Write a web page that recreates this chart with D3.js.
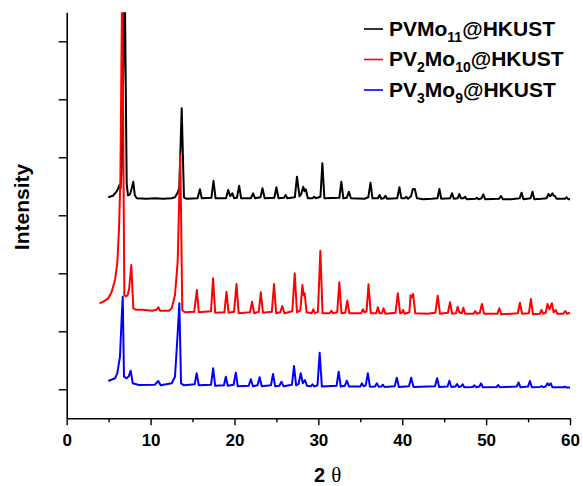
<!DOCTYPE html>
<html><head><meta charset="utf-8">
<script src="https://cdnjs.cloudflare.com/ajax/libs/d3/7.8.5/d3.min.js"></script>
<style>body{margin:0;background:#fff}svg{display:block}</style>
</head><body><div id="chart"></div>
<script>
// ---- data (2θ in degrees, intensity in arbitrary units, stacked offsets included) ----
const xTicks = [0, 10, 20, 30, 40, 50, 60];
const xMinorTicks = [5, 15, 25, 35, 45, 55];
const yTicks = [290, 870, 1450, 2030, 2610, 3190, 3770];
const xLabel = "2 θ";
const yLabel = "Intensity";

const seriesNames = [
  [["PVMo", ""], ["11", "sub"], ["@HKUST", ""]],
  [["PV", ""], ["2", "sub"], ["Mo", ""], ["10", "sub"], ["@HKUST", ""]],
  [["PV", ""], ["3", "sub"], ["Mo", ""], ["9", "sub"], ["@HKUST", ""]]
];
const seriesColors = ["#000000", "#ff0000", "#0000ff"];

const pvmo11 = [[4.96,2210],[5.5,2225],[5.96,2270],[6.15,2300],[6.27,2330],[6.42,2300],[6.56,2500],[6.92,4400],[7.15,2350],[7.3,2230],[7.55,2240],[7.72,2290],[7.94,2365],[8.12,2230],[8.35,2200],[9.5,2195],[10.5,2200],[11.5,2195],[12.5,2200],[12.9,2210],[13.19,2250],[13.42,2300],[13.71,3100],[13.98,2210],[14.3,2195],[15.6,2200],[15.88,2290],[16.1,2200],[17.25,2205],[17.5,2375],[17.75,2200],[19.0,2200],[19.25,2283],[19.5,2220],[19.75,2250],[19.95,2200],[20.3,2205],[20.56,2326],[20.8,2200],[21.95,2200],[22.22,2250],[22.45,2200],[23.1,2210],[23.34,2300],[23.6,2200],[24.75,2205],[25.0,2310],[25.25,2200],[25.9,2205],[26.1,2233],[26.3,2200],[27.2,2210],[27.45,2416],[27.75,2220],[27.95,2240],[28.2,2316],[28.35,2270],[28.5,2290],[28.75,2200],[29.3,2200],[29.5,2215],[29.7,2200],[30.25,2215],[30.48,2550],[30.72,2200],[32.5,2205],[32.74,2366],[32.98,2200],[33.4,2205],[33.64,2266],[33.88,2200],[35.5,2195],[35.95,2210],[36.22,2356],[36.45,2200],[37.1,2200],[37.3,2233],[37.5,2195],[37.8,2200],[38.0,2226],[38.2,2195],[39.4,2200],[39.67,2310],[39.9,2200],[40.3,2200],[40.5,2215],[40.7,2195],[41.05,2220],[41.25,2290],[41.5,2293],[41.75,2200],[42.5,2190],[43.5,2195],[44.2,2200],[44.43,2293],[44.65,2195],[45.7,2200],[45.94,2250],[46.15,2195],[46.6,2200],[46.8,2243],[47.0,2200],[47.3,2200],[47.5,2216],[47.7,2190],[48.7,2195],[48.9,2205],[49.1,2190],[49.45,2200],[49.67,2238],[49.9,2190],[51.55,2195],[51.77,2223],[52.0,2190],[53.0,2190],[54.0,2200],[54.23,2256],[54.45,2190],[55.3,2200],[55.53,2266],[55.75,2190],[56.6,2195],[57.2,2200],[57.44,2243],[57.65,2220],[57.9,2250],[58.05,2225],[58.2,2223],[58.4,2195],[59.4,2195],[59.6,2210],[59.8,2190],[60,2190]];

const pv2mo10 = [[3.9,1150],[4.36,1166],[4.96,1200],[5.36,1266],[5.76,1383],[6.03,1550],[6.24,1903],[6.4,2400],[6.62,4400],[6.87,1230],[7.1,1220],[7.3,1240],[7.45,1300],[7.7,1533],[7.94,1100],[8.3,1085],[9.0,1085],[10.2,1075],[10.7,1085],[10.92,1110],[11.15,1075],[12.2,1075],[12.52,1100],[12.91,1233],[13.23,1566],[13.54,2633],[13.78,1080],[14.1,1060],[15.2,1065],[15.52,1283],[15.75,1060],[17.2,1070],[17.45,1400],[17.7,1055],[18.8,1060],[19.05,1266],[19.3,1055],[19.95,1065],[20.24,1343],[20.5,1050],[21.85,1060],[22.1,1166],[22.35,1050],[22.9,1065],[23.14,1260],[23.4,1055],[24.45,1065],[24.72,1343],[24.97,1050],[25.45,1060],[25.7,1123],[25.95,1050],[26.9,1070],[27.18,1450],[27.45,1060],[27.85,1080],[28.1,1333],[28.25,1230],[28.37,1250],[28.6,1060],[29.2,1050],[29.4,1090],[29.6,1050],[29.95,1065],[30.24,1676],[30.5,1050],[31.35,1050],[31.55,1076],[31.75,1050],[32.25,1060],[32.5,1360],[32.75,1050],[33.2,1055],[33.45,1176],[33.7,1050],[35.1,1050],[35.3,1090],[35.5,1060],[35.75,1070],[35.98,1340],[36.25,1050],[36.9,1050],[37.1,1110],[37.3,1050],[37.57,1050],[37.77,1100],[38.0,1045],[39.2,1055],[39.47,1250],[39.75,1050],[39.95,1055],[40.1,1083],[40.3,1045],[40.85,1060],[41.0,1230],[41.15,1210],[41.3,1243],[41.55,1050],[43.0,1045],[43.95,1055],[44.23,1226],[44.5,1045],[45.45,1055],[45.7,1160],[45.95,1045],[46.4,1050],[46.61,1116],[46.8,1060],[47.1,1050],[47.29,1106],[47.5,1045],[48.5,1045],[48.7,1073],[48.9,1045],[49.25,1055],[49.5,1143],[49.75,1045],[51.35,1045],[51.57,1100],[51.8,1040],[53.78,1050],[54.03,1156],[54.28,1045],[55.1,1050],[55.34,1193],[55.58,1040],[56.4,1045],[56.6,1083],[56.8,1045],[57.1,1055],[57.32,1143],[57.55,1090],[57.84,1150],[58.05,1060],[58.3,1083],[58.5,1045],[59.2,1045],[59.43,1073],[59.65,1045],[60,1055]];

const pv3mo9 = [[4.96,373],[5.76,400],[6.03,450],[6.35,616],[6.56,1016],[6.68,1216],[6.83,416],[7.15,400],[7.4,420],[7.63,476],[7.87,350],[8.6,333],[10.5,335],[10.92,373],[11.2,330],[12.52,350],[12.91,416],[13.23,850],[13.43,1150],[13.63,350],[14.0,330],[15.25,340],[15.5,450],[15.75,330],[17.2,335],[17.46,500],[17.7,325],[18.75,330],[18.97,416],[19.2,325],[19.9,335],[20.16,456],[20.4,320],[21.7,325],[21.95,390],[22.2,320],[22.75,330],[23.0,410],[23.25,320],[24.35,330],[24.6,443],[24.85,320],[25.35,325],[25.6,366],[25.85,320],[26.85,335],[27.1,523],[27.35,330],[27.65,345],[27.9,450],[28.15,350],[28.4,383],[28.65,325],[29.1,320],[29.3,340],[29.5,318],[29.9,330],[30.16,656],[30.42,318],[32.17,325],[32.42,466],[32.67,318],[33.15,325],[33.4,376],[33.65,318],[35.0,318],[35.2,350],[35.4,320],[35.65,330],[35.9,450],[36.15,316],[36.75,318],[36.97,350],[37.2,316],[37.5,318],[37.7,335],[37.9,313],[39.1,320],[39.35,406],[39.6,313],[40.8,320],[41.06,406],[41.35,313],[43.9,320],[44.16,400],[44.4,313],[45.4,318],[45.62,376],[45.85,313],[46.35,318],[46.54,343],[46.75,313],[47.0,318],[47.2,340],[47.4,311],[48.4,313],[48.6,330],[48.8,311],[49.2,318],[49.4,350],[49.62,310],[51.25,313],[51.45,333],[51.65,310],[53.65,318],[53.87,360],[54.1,310],[55.0,318],[55.22,373],[55.45,310],[56.4,313],[56.6,323],[56.8,310],[57.1,318],[57.32,350],[57.5,330],[57.7,350],[57.9,311],[59.2,311],[59.4,316],[59.6,307],[60,307]];

const seriesData = [pvmo11, pv2mo10, pv3mo9];

// ---- drawing ----
(function () {
const W = 583, H = 486;
const mLeft = 66.7, mRight = 570, mTop = 12.3, mBottom = 418.3;
const font = "'Liberation Sans', Arial, sans-serif";

const svg = d3.select("#chart").append("svg").attr("width", W).attr("height", H);

const x = d3.scaleLinear().domain([0, 60]).range([mLeft, mRight]);
const y = d3.scaleLinear().domain([0, 4060]).range([mBottom, mTop]);

svg.append("clipPath").attr("id", "plotclip")
  .append("rect").attr("x", mLeft).attr("y", mTop).attr("width", mRight - mLeft + 5).attr("height", mBottom - mTop);

const line = d3.line().x(d => x(d[0])).y(d => y(d[1]));
const g = svg.append("g").attr("clip-path", "url(#plotclip)");
seriesData.forEach((data, i) => {
  g.append("path").datum(data)
    .attr("d", line)
    .attr("fill", "none")
    .attr("stroke", seriesColors[i])
    .attr("stroke-width", 2)
    .attr("stroke-linejoin", "round");
});

const xAxis = svg.append("g").attr("transform", `translate(0,${mBottom})`)
  .call(d3.axisBottom(x).tickValues(xTicks).tickSize(7).tickSizeOuter(0).tickPadding(9).tickFormat(d3.format("d")));
const xMinor = svg.append("g").attr("transform", `translate(0,${mBottom})`)
  .call(d3.axisBottom(x).tickValues(xMinorTicks).tickSize(4).tickSizeOuter(0).tickFormat(""));
xMinor.select(".domain").remove();
const yAxis = svg.append("g").attr("transform", `translate(${mLeft},0)`)
  .call(d3.axisLeft(y).tickValues(yTicks).tickSize(8).tickSizeOuter(0).tickFormat(""));

[xAxis, xMinor, yAxis].forEach(a => {
  a.selectAll(".domain").attr("stroke", "#000").attr("stroke-width", 1.6);
  a.selectAll(".tick line").attr("stroke", "#000").attr("stroke-width", 1.4);
});
xAxis.selectAll(".tick text")
  .attr("font-family", font).attr("font-weight", "bold").attr("font-size", 17).attr("fill", "#000");

const xl = svg.append("text").attr("x", 314).attr("y", 481.5)
  .attr("font-size", 20).attr("fill", "#000");
xl.append("tspan").attr("font-family", font).attr("font-weight", "bold").text(xLabel.split(" ")[0]);
xl.append("tspan").attr("font-family", "'Liberation Serif','DejaVu Serif',serif").attr("font-size", 21).attr("dx", 6).text(xLabel.split(" ")[1]);

svg.append("text")
  .attr("transform", `translate(29,207) rotate(-90)`)
  .attr("text-anchor", "middle")
  .attr("font-family", font).attr("font-weight", "bold").attr("font-size", 21).attr("fill", "#000")
  .text(yLabel);

const legendY = [29, 59.5, 90];
seriesNames.forEach((parts, i) => {
  svg.append("line").attr("x1", 364).attr("x2", 383)
    .attr("y1", legendY[i]).attr("y2", legendY[i])
    .attr("stroke", seriesColors[i]).attr("stroke-width", 1.6);
  const t = svg.append("text").attr("x", 389).attr("y", legendY[i] + 6.5)
    .attr("font-family", font).attr("font-weight", "bold").attr("font-size", 21).attr("fill", "#000");
  let shifted = false;
  parts.forEach(([txt, kind]) => {
    const ts = t.append("tspan").text(txt);
    if (kind === "sub") {
      ts.attr("font-size", 14).attr("dy", shifted ? 0 : 6);
      shifted = true;
    } else {
      ts.attr("dy", shifted ? -6 : 0);
      shifted = false;
    }
  });
});
})();
</script>
</body></html>
